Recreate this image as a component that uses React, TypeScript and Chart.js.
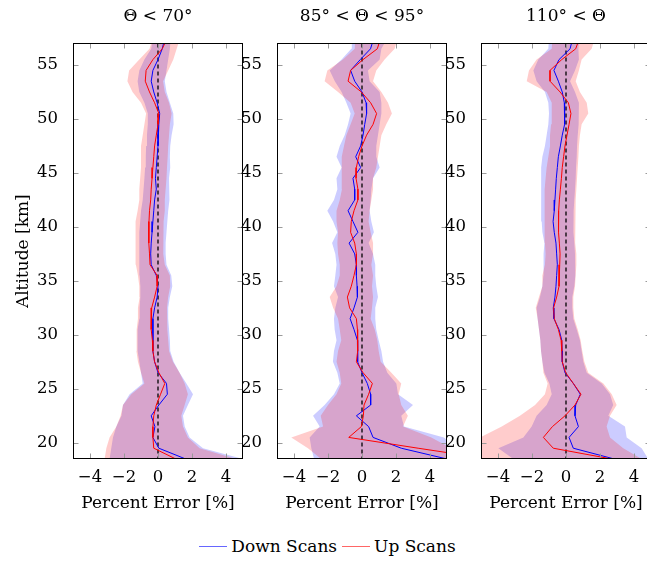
import React, { useEffect, useRef } from 'react';
import { Chart, registerables } from 'chart.js';

Chart.register(...registerables);

// ---------- data ----------
const ALTITUDES = [
  57.5, 56.5, 55.5, 54.5, 53.5, 52.5, 51.5, 50.5, 49.5, 48.5, 47.5, 46.5, 45.5, 44.5,
  43.5, 42.5, 41.5, 40.5, 39.5, 38.5, 37.5, 36.5, 35.5, 34.5, 33.5, 32.5, 31.5, 30.5,
  29.5, 28.5, 27.5, 26.5, 25.5, 24.5, 23.5, 22.5, 21.5, 20.5, 19.5, 18.5,
];
const PANEL_TITLES = ['Θ < 70°', '85° < Θ < 95°', '110° < Θ'];
const SERIES_NAMES = ['Down Scans', 'Up Scans'];
const X_TICKS = [-4, -2, 0, 2, 4];
const Y_TICKS = [20, 25, 30, 35, 40, 45, 50, 55];
const X_RANGE = [-5, 5];
const Y_RANGE = [18.5, 57];
const X_TITLE = 'Percent Error [%]';
const Y_TITLE = 'Altitude [km]';

// Panel 1: Θ < 70°
const p1Down = [0.4, 0.25, 0.0, -0.3, -0.4, -0.25, -0.05, 0.1, 0.05, 0.0, 0.0, -0.05, -0.1, -0.15, -0.1, -0.2, -0.25, -0.3, -0.35, -0.4, -0.43, -0.4,
  -0.1, 0.0, -0.05, -0.2, -0.3, -0.3, -0.3, -0.3, -0.2, 0.0, 0.5, 0.55, 0.05, -0.4, -0.18, -0.3, 0.05, 1.63];
const p1Up = [0.55, 0.25, -0.3, -0.7, -0.75, -0.5, -0.2, 0.05, 0.0, -0.1, -0.2, -0.25, -0.3, -0.35, -0.4, -0.43, -0.5, -0.53, -0.55, -0.53, -0.5, -0.47,
  -0.05, -0.05, -0.2, -0.37, -0.4, -0.4, -0.33, -0.3, -0.2, 0.05, 0.4, 0.15, -0.1, -0.25, -0.3, -0.3, -0.25, 1.05];
const p1DownLo = [-0.3, -0.4, -0.8, -1.1, -1.2, -1.1, -0.8, -0.6, -0.6, -0.65, -0.7, -0.72, -0.76, -0.8, -0.85, -0.9, -1.0, -1.05, -1.1, -1.1, -1.1, -1.1,
  -1.08, -1.04, -1.04, -1.08, -1.1, -1.2, -1.2, -1.2, -1.1, -1.0, -0.9, -1.67, -2.06, -2.15, -2.45, -2.65, -2.75, -2.85];
const p1DownHi = [0.75, 0.7, 0.6, 0.5, 0.4, 0.5, 0.7, 0.9, 0.92, 0.8, 0.72, 0.7, 0.72, 0.65, 0.7, 0.65, 0.6, 0.55, 0.5, 0.45, 0.45, 0.5,
  0.78, 0.84, 0.7, 0.6, 0.6, 0.65, 0.7, 0.72, 0.92, 1.27, 1.67, 2.06, 1.76, 1.47, 1.57, 1.86, 2.65, 5.0];
const p1UpLo = [-0.3, -0.5, -1.1, -1.7, -1.8, -1.5, -1.0, -0.7, -0.8, -0.9, -1.0, -1.0, -1.0, -1.05, -1.1, -1.1, -1.2, -1.3, -1.3, -1.35, -1.33, -1.3,
  -1.18, -1.1, -1.08, -1.18, -1.18, -1.24, -1.27, -1.27, -1.18, -1.0, -0.8, -1.57, -2.06, -2.2, -2.45, -2.85, -3.04, -3.14];
const p1UpHi = [1.3, 1.1, 0.9, 0.6, 0.3, 0.4, 0.65, 0.8, 0.7, 0.65, 0.6, 0.57, 0.53, 0.5, 0.45, 0.4, 0.4, 0.33, 0.3, 0.3, 0.33, 0.4,
  0.7, 0.72, 0.6, 0.53, 0.53, 0.57, 0.6, 0.65, 0.88, 1.27, 1.57, 1.76, 1.57, 1.37, 1.47, 1.76, 2.45, 4.6];

// Panel 2: 85° < Θ < 95°
const p2Down = [0.7, 0.5, -0.1, -0.67, -0.43, 0.0, 0.24, 0.27, 0.16, 0.06, -0.08, -0.37, -0.08, -0.53, -0.43, -0.43, -0.82, -0.53, -0.24, -0.76, -0.43, -0.33,
  -0.33, -0.29, -0.27, -0.47, -0.7, -0.47, -0.27, -0.24, -0.27, 0.0, 0.31, 0.51, 0.51, -0.33, 0.39, 0.65, 2.31, 5.0];
const p2Up = [1.1, 0.9, 0.06, -0.67, -0.82, -0.04, 0.51, 0.86, 0.65, 0.27, 0.0, -0.2, -0.33, -0.35, -0.24, -0.24, -0.47, -0.63, -0.67, -0.43, -0.33, -0.33,
  -0.47, -0.63, -0.86, -0.73, -0.33, -0.27, -0.24, -0.27, -0.33, 0.06, 0.61, 0.39, 0.12, 0.08, -0.04, -0.78, 3.3, 7.5];
const p2DownLo = [-0.6, -0.63, -1.2, -1.9, -1.6, -1.2, -0.92, -0.67, -0.82, -1.02, -1.31, -1.5, -1.2, -1.5, -1.45, -1.65, -2.04, -1.7, -1.45, -1.76, -1.57, -1.5,
  -1.57, -1.65, -1.41, -1.57, -1.65, -1.61, -1.5, -1.65, -1.71, -1.45, -1.31, -1.65, -2.2, -2.88, -2.49, -3.08, -2.98, -2.82];
const p2DownHi = [1.5, 1.14, 1.04, 0.35, 0.45, 1.04, 1.14, 1.14, 1.04, 0.94, 0.84, 0.84, 1.04, 0.65, 0.55, 0.51, 0.45, 0.55, 0.7, 0.39, 0.65, 0.78,
  0.78, 0.84, 0.94, 0.78, 0.78, 0.84, 0.98, 1.14, 1.24, 1.49, 2.02, 2.12, 3.0, 2.31, 2.47, 4.82, 5.6, 5.8];
const p2UpLo = [-0.4, -0.43, -1.12, -2.04, -2.2, -1.41, -0.67, -0.43, -0.67, -0.92, -1.06, -1.2, -1.18, -1.2, -1.18, -1.31, -1.5, -1.5, -1.41, -1.45, -1.41, -1.31,
  -1.31, -1.5, -1.9, -1.7, -1.41, -1.31, -1.22, -1.41, -1.5, -1.31, -1.22, -1.5, -2.0, -2.43, -2.29, -4.16, -3.18, -2.4];
const p2UpHi = [2.1, 1.92, 1.33, 0.84, 0.65, 1.14, 1.53, 1.76, 1.43, 1.14, 1.04, 0.94, 0.84, 0.65, 0.65, 0.55, 0.45, 0.39, 0.51, 0.65, 0.65, 0.55,
  0.65, 0.59, 0.65, 0.59, 0.51, 0.75, 0.9, 0.98, 1.1, 1.73, 2.31, 2.16, 2.31, 2.7, 2.41, 4.08, 5.25, 6.0];

// Panel 3: 110° < Θ
const p3Down = [0.4, 0.24, -0.41, -0.71, -0.45, -0.22, -0.1, -0.06, -0.1, -0.22, -0.33, -0.45, -0.51, -0.57, -0.61, -0.65, -0.69, -0.76, -0.69, -0.59, -0.55, -0.51,
  -0.55, -0.59, -0.65, -0.75, -0.71, -0.41, -0.25, -0.22, -0.22, -0.06, 0.43, 0.84, 0.57, 0.53, 0.73, 0.18, 0.43, 2.84];
const p3Up = [0.8, 0.57, -0.25, -0.94, -0.94, -0.35, 0.14, 0.29, 0.18, 0.06, -0.06, -0.14, -0.22, -0.27, -0.33, -0.39, -0.43, -0.45, -0.43, -0.39, -0.35, -0.37,
  -0.41, -0.41, -0.55, -0.73, -0.69, -0.45, -0.29, -0.25, -0.22, -0.02, 0.43, 0.88, 0.53, -0.06, -0.8, -1.33, -0.75, 2.69];
const p3DownLo = [-1.0, -1.04, -1.63, -1.92, -1.73, -1.24, -1.04, -1.0, -1.04, -1.14, -1.24, -1.39, -1.43, -1.47, -1.47, -1.47, -1.47, -1.43, -1.39, -1.27, -1.31, -1.33,
  -1.33, -1.39, -1.53, -1.73, -1.67, -1.59, -1.51, -1.47, -1.39, -1.27, -0.98, -0.84, -1.14, -1.73, -2.02, -2.51, -3.98, -3.1];
const p3DownHi = [0.8, 0.73, 0.76, 0.53, 0.24, 0.53, 0.76, 0.76, 0.73, 0.69, 0.65, 0.63, 0.59, 0.57, 0.53, 0.49, 0.45, 0.43, 0.45, 0.49, 0.53, 0.57,
  0.53, 0.49, 0.37, 0.37, 0.43, 0.63, 0.82, 0.92, 1.02, 1.22, 2.1, 2.59, 2.78, 2.49, 3.47, 3.57, 4.45, 4.84];
const p3UpLo = [-0.8, -0.84, -1.73, -2.18, -2.31, -1.14, -0.84, -0.84, -0.88, -0.94, -0.94, -1.04, -1.14, -1.2, -1.24, -1.24, -1.27, -1.27, -1.27, -1.24, -1.2, -1.24,
  -1.39, -1.39, -1.59, -1.78, -1.67, -1.59, -1.51, -1.47, -1.39, -1.33, -1.08, -1.24, -1.82, -2.71, -3.78, -5.06, -5.35, -5.75];
const p3UpHi = [1.7, 1.51, 0.92, 0.76, 0.57, 0.82, 1.22, 1.31, 0.92, 0.82, 0.76, 0.73, 0.69, 0.65, 0.61, 0.57, 0.53, 0.53, 0.53, 0.57, 0.61, 0.61,
  0.57, 0.53, 0.43, 0.43, 0.49, 0.69, 0.86, 0.96, 1.08, 1.31, 2.2, 2.69, 2.98, 2.59, 2.39, 2.59, 3.37, 4.45];

const PANELS = [
  { title: PANEL_TITLES[0], down: p1Down, up: p1Up, downLo: p1DownLo, downHi: p1DownHi, upLo: p1UpLo, upHi: p1UpHi },
  { title: PANEL_TITLES[1], down: p2Down, up: p2Up, downLo: p2DownLo, downHi: p2DownHi, upLo: p2UpLo, upHi: p2UpHi },
  { title: PANEL_TITLES[2], down: p3Down, up: p3Up, downLo: p3DownLo, downHi: p3DownHi, upLo: p3UpLo, upHi: p3UpHi },
];

// ---------- layout / style ----------
const FONT = "'DejaVu Serif', serif";
const PLOT_LEFT = [73, 277, 481];
const Y_AXIS_W = [73, 45, 45];
const PLOT_W = 170;
const RIGHT_PAD = 10;
const CANVAS_H = 520;
const BLUE = '#0000ff';
const RED = '#ff0000';
const BLUE_FILL = 'rgba(0,0,255,0.2)';
const RED_FILL = 'rgba(255,0,0,0.2)';

const toPts = (vals: number[]) => ALTITUDES.map((y, i) => ({ x: vals[i], y }));
const fmt = (v: number) => (v < 0 ? '\u2212' + Math.abs(v) : String(v));

const framePlugin = {
  id: 'pgfFrame',
  afterDatasetsDraw(chart: any) {
    const { ctx, chartArea: a } = chart;
    const xs = chart.scales.x;
    const ys = chart.scales.y;
    const L = Math.round(a.left) + 0.5;
    const R = Math.round(a.right) - 0.5;
    const T = Math.round(a.top) + 0.5;
    const B = Math.round(a.bottom) - 0.5;
    ctx.save();
    ctx.lineWidth = 1;
    ctx.strokeStyle = '#9a9a9a';
    ctx.beginPath();
    for (const v of X_TICKS) {
      const p = Math.round(xs.getPixelForValue(v)) + 0.5;
      ctx.moveTo(p, B); ctx.lineTo(p, B - 5);
      ctx.moveTo(p, T); ctx.lineTo(p, T + 5);
    }
    for (const v of Y_TICKS) {
      const p = Math.round(ys.getPixelForValue(v)) + 0.5;
      ctx.moveTo(L, p); ctx.lineTo(L + 5, p);
      ctx.moveTo(R, p); ctx.lineTo(R - 5, p);
    }
    ctx.stroke();
    ctx.strokeStyle = '#000';
    ctx.strokeRect(L, T, R - L, B - T);
    ctx.restore();
  },
};

function makeConfig(idx: number): any {
  const p = PANELS[idx];
  const edge = { borderWidth: 0, pointRadius: 0 };
  return {
    type: 'line',
    data: {
      datasets: [
        { label: SERIES_NAMES[1], data: toPts(p.up), borderColor: RED, borderWidth: 1, pointRadius: 0, fill: false },
        { label: SERIES_NAMES[0], data: toPts(p.down), borderColor: BLUE, borderWidth: 1, pointRadius: 0, fill: false },
        { label: 'zero', data: [{ x: 0, y: Y_RANGE[1] }, { x: 0, y: Y_RANGE[0] }], borderColor: '#000', borderWidth: 1.3, borderDash: [4, 3], pointRadius: 0, fill: false },
        { label: 'upHi', data: toPts(p.upHi), ...edge, backgroundColor: RED_FILL, fill: '+1' },
        { label: 'upLo', data: toPts(p.upLo), ...edge, fill: false },
        { label: 'downHi', data: toPts(p.downHi), ...edge, backgroundColor: BLUE_FILL, fill: '+1' },
        { label: 'downLo', data: toPts(p.downLo), ...edge, fill: false },
      ],
    },
    options: {
      indexAxis: 'y',
      responsive: false,
      maintainAspectRatio: false,
      animation: false,
      events: [],
      layout: { padding: { left: 0, right: RIGHT_PAD, top: 0, bottom: 0 } },
      plugins: {
        legend: { display: false },
        tooltip: { enabled: false },
        title: {
          display: true,
          text: p.title,
          color: '#000',
          fullSize: false,
          font: { family: FONT, size: 17, weight: 'normal' },
          padding: { top: 6, bottom: 17 },
        },
      },
      scales: {
        x: {
          type: 'linear',
          position: 'bottom',
          min: X_RANGE[0],
          max: X_RANGE[1],
          grid: { display: false },
          border: { display: false },
          afterBuildTicks: (s: any) => { s.ticks = X_TICKS.map((v) => ({ value: v })); },
          afterFit: (s: any) => { s.height = 61; },
          ticks: {
            color: '#000',
            font: { family: FONT, size: 16.5 },
            padding: 1,
            maxRotation: 0,
            callback: (v: number) => fmt(v),
          },
          title: {
            display: true,
            text: X_TITLE,
            color: '#000',
            font: { family: FONT, size: 17 },
            padding: { top: 0, bottom: 6 },
          },
        },
        y: {
          type: 'linear',
          position: 'left',
          min: Y_RANGE[0],
          max: Y_RANGE[1],
          grid: { display: false },
          border: { display: false },
          afterBuildTicks: (s: any) => { s.ticks = Y_TICKS.map((v) => ({ value: v })); },
          afterFit: (s: any) => { s.width = Y_AXIS_W[idx]; },
          ticks: {
            color: '#000',
            font: { family: FONT, size: 16.5 },
            padding: 7,
            callback: (v: number) => String(v),
          },
          title: {
            display: idx === 0,
            text: Y_TITLE,
            color: '#000',
            font: { family: FONT, size: 17 },
            padding: { top: 13.8, bottom: 0 },
          },
        },
      },
    },
    plugins: [framePlugin],
  };
}

export default function App() {
  const refs = [useRef<HTMLCanvasElement>(null), useRef<HTMLCanvasElement>(null), useRef<HTMLCanvasElement>(null)];

  useEffect(() => {
    const charts = refs.map((r, i) => new Chart(r.current as HTMLCanvasElement, makeConfig(i)));
    return () => charts.forEach((c) => c.destroy());
  }, []);

  const legendColors = [BLUE, RED];

  return (
    <div style={{ position: 'absolute', left: 0, top: 0, width: 647, height: 561, overflow: 'hidden', background: '#fff' }}>
      {PANELS.map((_, i) => {
        const left = PLOT_LEFT[i] - Y_AXIS_W[i];
        const width = Y_AXIS_W[i] + PLOT_W + RIGHT_PAD;
        return (
          <canvas
            key={i}
            ref={refs[i]}
            width={width}
            height={CANVAS_H}
            style={{ position: 'absolute', left, top: 0, width, height: CANVAS_H }}
          />
        );
      })}
      <div
        style={{
          position: 'absolute', left: 0, top: 536, width: 655, height: 20,
          display: 'flex', justifyContent: 'center', alignItems: 'center',
          fontFamily: FONT, fontSize: 17, lineHeight: '20px', color: '#000', whiteSpace: 'nowrap',
        }}
      >
        {SERIES_NAMES.map((name, i) => (
          <React.Fragment key={name}>
            <span style={{ display: 'inline-block', width: 28, height: 0, borderTop: `1.2px solid ${legendColors[i]}`, opacity: 0.6, marginLeft: i === 0 ? 0 : 5, marginRight: 4 }} />
            <span>{name}</span>
          </React.Fragment>
        ))}
      </div>
    </div>
  );
}
